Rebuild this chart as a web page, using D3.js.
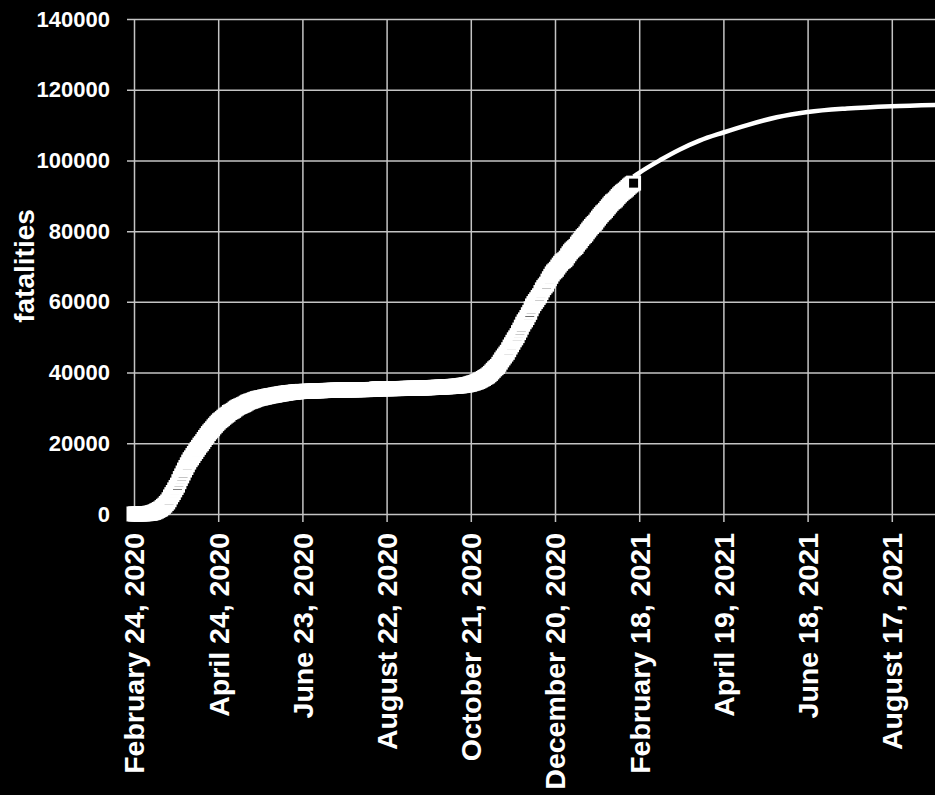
<!DOCTYPE html>
<html>
<head>
<meta charset="utf-8">
<script src="https://cdn.jsdelivr.net/npm/d3@7"></script>
<style>
  html, body { margin: 0; padding: 0; background: #000; }
  svg { display: block; }
  text { font-family: "Liberation Sans", Arial, sans-serif; fill: #fff; }
</style>
</head>
<body>
<svg id="chart" width="935" height="795"></svg>
<script>
// Cumulative fatalities, one value per day starting on the first date below
const firstDay = "2020-02-24";
const fatalities = [
  // Feb 2020 (24–29)
  7, 10, 12, 17, 21, 29,
  // Mar 2020
  34, 52, 79, 107, 148, 197, 233, 366, 463, 631,
  827, 1016, 1266, 1441, 1809, 2158, 2503, 2978, 3405, 4032,
  4825, 5476, 6077, 6820, 7503, 8165, 9134, 10023, 10779, 11591, 12428,
  // Apr 2020
  13155, 13915, 14681, 15362, 15887, 16523, 17127, 17669, 18279, 18849,
  19468, 19899, 20465, 21067, 21645, 22170, 22745, 23227, 23660, 24114,
  24648, 25085, 25549, 25969, 26384, 26644, 26977, 27359, 27682, 27967,
  // May 2020
  28236, 28710, 28884, 29079, 29315, 29684, 29958, 30201, 30395, 30560,
  30739, 30911, 31106, 31368, 31610, 31763, 31908, 32007, 32169, 32330,
  32486, 32616, 32735, 32785, 32877, 32955, 33072, 33142, 33229, 33340, 33415,
  // Jun 2020
  33475, 33530, 33601, 33689, 33774, 33846, 33899, 33964, 34043, 34114,
  34167, 34223, 34301, 34345, 34371, 34405, 34448, 34514, 34561, 34610,
  34634, 34657, 34675, 34644, 34678, 34708, 34716, 34738, 34744, 34767,
  // Jul 2020
  34788, 34818, 34833, 34854, 34861, 34869, 34899, 34914, 34926, 34938,
  34945, 34954, 34967, 34984, 34997, 35017, 35028, 35042, 35045, 35058,
  35073, 35082, 35092, 35097, 35102, 35107, 35112, 35123, 35129, 35132, 35141,
  // Aug 2020
  35146, 35154, 35166, 35171, 35181, 35187, 35190, 35203, 35205, 35209,
  35215, 35225, 35231, 35234, 35392, 35396, 35400, 35405, 35412, 35418,
  35427, 35430, 35437, 35441, 35445, 35458, 35463, 35472, 35473, 35477, 35483,
  // Sep 2020
  35491, 35497, 35507, 35518, 35534, 35541, 35553, 35563, 35577, 35587,
  35597, 35603, 35610, 35624, 35633, 35645, 35658, 35668, 35692, 35707,
  35724, 35738, 35758, 35781, 35801, 35818, 35835, 35851, 35875, 35894,
  // Oct 2020
  35918, 35941, 35968, 35986, 36002, 36030, 36061, 36083, 36111, 36140,
  36166, 36205, 36246, 36289, 36372, 36427, 36474, 36543, 36616, 36705,
  36832, 36968, 37059, 37210, 37338, 37479, 37700, 37905, 38122, 38321, 38618,
  // Nov 2020
  38826, 39059, 39412, 39764, 40192, 40638, 41063, 41394, 41750, 42330,
  42953, 43589, 44139, 44683, 45229, 45733, 46464, 47217, 47870, 48569,
  49261, 49823, 50453, 51306, 52028, 52850, 53677, 54363, 54904, 55576,
  // Dec 2020
  56361, 57045, 58038, 58852, 59514, 60078, 60606, 61240, 61739, 62626,
  63387, 64036, 64520, 65011, 65857, 66537, 67220, 67894, 68447, 68799,
  69214, 69842, 70395, 70900, 71359, 71620, 71925, 72370, 73029, 73604, 74159,
  // Jan 2021
  74621, 74985, 75332, 75680, 76329, 76877, 77291, 77911, 78394, 78755,
  79203, 79819, 80326, 80848, 81325, 81800, 82177, 82554, 83157, 83681,
  84202, 84674, 85162, 85461, 85881, 86422, 86889, 87381, 87858, 88279, 88516,
  // Feb 2021 (1–14)
  88845, 89344, 89820, 90241, 90618, 91003, 91273, 91580, 91917, 92338,
  92729, 93045, 93356, 93577
];

// Projected curve beyond the last observation
const projectionDates = [
  "2021-02-14", "2021-02-18", "2021-03-05", "2021-03-19", "2021-04-02", "2021-04-19",
  "2021-05-06", "2021-05-27", "2021-06-18", "2021-07-16", "2021-08-17", "2021-09-17"
];
const projectionValues = [
  95400, 96500, 100100, 103100, 105600, 107900,
  110000, 112200, 113700, 114700, 115350, 115700
];

// Axis ticks
const xTickDates = [
  "2020-02-24", "2020-04-24", "2020-06-23", "2020-08-22", "2020-10-21",
  "2020-12-20", "2021-02-18", "2021-04-19", "2021-06-18", "2021-08-17"
];
const xTickLabels = [
  "February 24, 2020", "April 24, 2020", "June 23, 2020", "August 22, 2020", "October 21, 2020",
  "December 20, 2020", "February 18, 2021", "April 19, 2021", "June 18, 2021", "August 17, 2021"
];
const yTickValues = [0, 20000, 40000, 60000, 80000, 100000, 120000, 140000];
const yTitle = "fatalities";
const xDomain = ["2020-02-24", "2021-09-17"];

// ---- layout ----
const svg = d3.select("#chart");
const plotLeft = 134, plotRight = 935.3, plotTop = 19, plotBottom = 514;
const gridColor = "#c4c4c4";
const parse = d3.utcParse("%Y-%m-%d");

const x = d3.scaleUtc().domain(xDomain.map(parse)).range([plotLeft, plotRight]);
const y = d3.scaleLinear().domain([0, 140000]).range([plotBottom, plotTop]);

svg.append("rect").attr("width", 935).attr("height", 795).attr("fill", "#000");

// y axis with full-width grid lines and short outer ticks
const yAxis = svg.append("g")
  .attr("transform", `translate(${plotLeft},0)`)
  .call(d3.axisLeft(y).tickValues(yTickValues).tickSize(-(plotRight - plotLeft)).tickPadding(24).tickFormat(d3.format("d")));
yAxis.select(".domain").remove();
yAxis.selectAll(".tick line").attr("x1", -7).attr("stroke", gridColor).attr("stroke-width", 1.5);
yAxis.selectAll(".tick text")
  .attr("fill", "#fff").attr("font-size", 22).attr("font-weight", "bold")
  .attr("font-family", '"Liberation Sans", Arial, sans-serif');

// x axis with full-height grid lines and rotated date labels
const xTicks = xTickDates.map(parse);
const xAxis = svg.append("g")
  .attr("transform", `translate(0,${plotBottom})`)
  .call(d3.axisBottom(x).tickValues(xTicks).tickSize(-(plotBottom - plotTop))
    .tickFormat((d, i) => xTickLabels[i]));
xAxis.select(".domain").remove();
xAxis.selectAll(".tick line").attr("y1", 8).attr("stroke", gridColor).attr("stroke-width", 1.5);
xAxis.selectAll(".tick text")
  .attr("transform", "rotate(-90)")
  .attr("x", -19).attr("y", 0).attr("dy", "0.35em")
  .attr("text-anchor", "end")
  .attr("fill", "#fff").attr("font-size", 28.5).attr("font-weight", "bold")
  .attr("font-family", '"Liberation Sans", Arial, sans-serif');

// y title
svg.append("text")
  .attr("transform", "translate(34,266) rotate(-90)")
  .attr("text-anchor", "middle")
  .attr("font-size", 28).attr("font-weight", "bold")
  .text(yTitle);

// projected curve (drawn beneath the observations)
const projection = projectionDates.map((d, i) => ({ date: parse(d), value: projectionValues[i] }));
svg.append("path")
  .datum(projection)
  .attr("fill", "none")
  .attr("stroke", "#fff")
  .attr("stroke-width", 4.5)
  .attr("d", d3.line().x(d => x(d.date)).y(d => y(d.value)).curve(d3.curveMonotoneX));

// daily observations as square markers
const start = parse(firstDay);
const observed = fatalities.map((v, i) => ({ date: d3.utcDay.offset(start, i), value: v }));
const side = 12;
svg.append("g")
  .selectAll("rect")
  .data(observed)
  .join("rect")
  .attr("x", d => x(d.date) - side / 2)
  .attr("y", d => y(d.value) - side / 2)
  .attr("width", side)
  .attr("height", side)
  .attr("fill", "#000")
  .attr("stroke", "#fff")
  .attr("stroke-width", 3);
</script>
</body>
</html>
